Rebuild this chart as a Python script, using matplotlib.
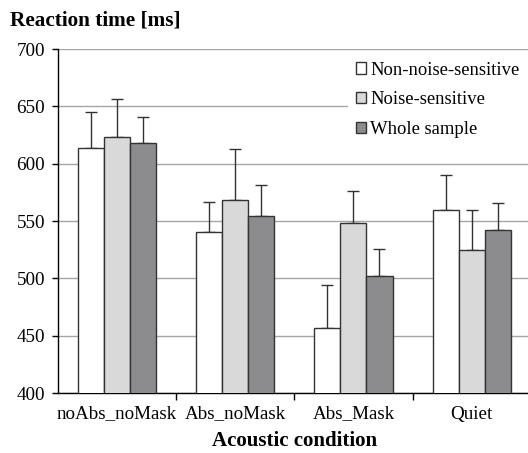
import matplotlib.pyplot as plt
import numpy as np

plt.rcParams["font.family"] = ["Liberation Serif", "DejaVu Serif"]

conditions = ["noAbs_noMask", "Abs_noMask", "Abs_Mask", "Quiet"]
groups = ["Non-noise-sensitive", "Noise-sensitive", "Whole sample"]

# Mean reaction times [ms] and upper error bars per group
non_sensitive = [614, 540, 457, 560]
sensitive = [623, 568, 548, 525]
whole_sample = [618, 554, 502, 542]

non_sensitive_err = [31, 27, 37, 30]
sensitive_err = [33, 45, 28, 35]
whole_sample_err = [23, 27, 24, 24]

means = [non_sensitive, sensitive, whole_sample]
errors = [non_sensitive_err, sensitive_err, whole_sample_err]
colors = ["#ffffff", "#d9d9d9", "#8c8c8e"]

fig = plt.figure(figsize=(5.28, 4.53), dpi=100)
ax = fig.add_axes([57.5 / 528, 60 / 453, (531 - 57.5) / 528, 344 / 453])

x = np.arange(len(conditions))
width = 0.22
for i, (vals, errs, color) in enumerate(zip(means, errors, colors)):
    pos = x + (i - 1) * width
    ax.bar(pos, vals, width, color=color, edgecolor="#333333",
           linewidth=1.0, label=groups[i], zorder=3)
    ax.errorbar(pos, vals, yerr=[np.zeros(len(errs)), errs], fmt="none",
                ecolor="#333333", elinewidth=1.0, capsize=4, capthick=1.0,
                zorder=2)

ax.set_ylim(400, 700)
ax.set_xlim(-0.5, len(conditions) - 0.5)
ax.set_yticks(np.arange(400, 701, 50))
ax.yaxis.grid(True, color="#a6a6a6", linewidth=1.0, zorder=0)
ax.set_axisbelow(True)

# category labels in the middle, ticks at the group boundaries
ax.set_xticks(x)
ax.set_xticklabels(conditions)
ax.tick_params(axis="x", length=0, labelsize=13.7, pad=9)
ax.set_xticks(np.arange(0.5, len(conditions) - 0.5), minor=True)
ax.tick_params(axis="x", which="minor", length=5, width=1.0, direction="out")
ax.tick_params(axis="y", length=4, width=1.0, labelsize=13.7, pad=5)

for side in ["top", "right"]:
    ax.spines[side].set_visible(False)
for side in ["left", "bottom"]:
    ax.spines[side].set_color("black")
    ax.spines[side].set_linewidth(1.0)

ax.set_xlabel("Acoustic condition", fontsize=15, fontweight="bold", labelpad=6)
fig.text(10 / 528, 1 - 20 / 453, "Reaction time [ms]", fontsize=15.3,
         fontweight="bold", va="center", ha="left")

leg = ax.legend(loc="upper right", bbox_to_anchor=(0.993, 0.988), fontsize=13.4,
                frameon=True, fancybox=False, framealpha=1.0,
                handlelength=0.55, handleheight=0.55, handletextpad=0.2,
                labelspacing=0.68, borderpad=0.45, borderaxespad=0)
leg.get_frame().set_edgecolor("white")
leg.get_frame().set_linewidth(0)

fig.savefig("out.png", dpi=100)
